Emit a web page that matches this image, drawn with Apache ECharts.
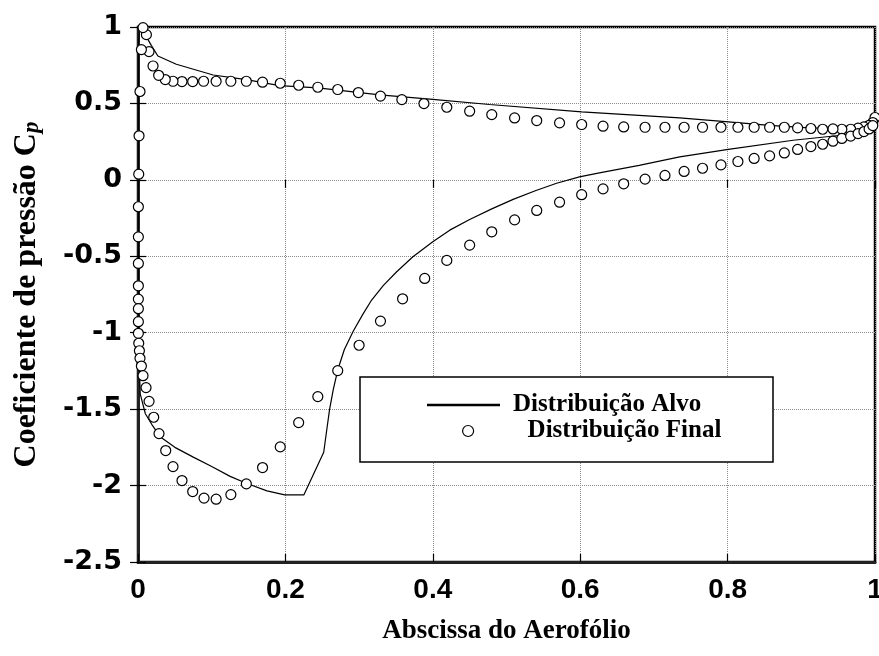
<!DOCTYPE html>
<html><head><meta charset="utf-8">
<script src="https://cdn.jsdelivr.net/npm/echarts@6/dist/echarts.min.js"></script>
<style>html,body{margin:0;padding:0;background:#fff}#c{width:879px;height:656px}</style>
</head><body><div id="c"></div>
<script>
// Distribuição Alvo (target) — upper surface TE→LE, then lower surface LE→TE
const targetX = [1.0, 0.952, 0.911, 0.857, 0.801, 0.735, 0.602, 0.477, 0.400, 0.328, 0.244, 0.192, 0.147, 0.102, 0.052, 0.027, 0.018, 0.006, 0.002,
  0.0008, 0.0005, 0.0005, 0.0005, 0.001, 0.002, 0.003, 0.010, 0.020, 0.030, 0.050, 0.075, 0.100, 0.125, 0.147, 0.175, 0.199, 0.225,
  0.252, 0.256, 0.260, 0.265, 0.271, 0.280, 0.292, 0.305, 0.317, 0.333, 0.351, 0.373, 0.400, 0.423, 0.450, 0.480, 0.509, 0.540, 0.568,
  0.599, 0.626, 0.680, 0.735, 0.801, 0.889, 0.954, 0.997, 1.0];
const targetY = [0.36, 0.336, 0.340, 0.357, 0.379, 0.405, 0.445, 0.493, 0.527, 0.556, 0.602, 0.617, 0.656, 0.686, 0.756, 0.81, 0.88, 0.983, 1.0,
  0.9, 0.5, 0.0, -0.5, -1.0, -1.25, -1.40, -1.53, -1.61, -1.68, -1.75, -1.814, -1.875, -1.94, -1.985, -2.035, -2.061, -2.061,
  -1.782, -1.64, -1.50, -1.37, -1.244, -1.11, -0.99, -0.88, -0.786, -0.69, -0.601, -0.503, -0.405, -0.329, -0.259, -0.19, -0.128, -0.07, -0.022,
  0.020, 0.046, 0.095, 0.150, 0.199, 0.259, 0.292, 0.314, 0.36];

// Distribuição Final — upper surface TE→LE, then lower surface LE→TE
const finalX = [1.0, 0.997, 0.992, 0.985, 0.977, 0.967, 0.955, 0.943, 0.929, 0.913, 0.895, 0.877, 0.857, 0.836, 0.814, 0.791, 0.766, 0.741, 0.715, 0.688,
  0.659, 0.631, 0.602, 0.572, 0.541, 0.511, 0.480, 0.450, 0.419, 0.388, 0.358, 0.329, 0.299, 0.271, 0.244, 0.218, 0.193, 0.169, 0.147, 0.126,
  0.106, 0.089, 0.0742, 0.0597, 0.0475, 0.037, 0.028, 0.0204, 0.015, 0.0114, 0.0068,
  0.0046, 0.0027, 0.0014, 0.001, 0.0005, 0.0005, 0.0005, 0.0005, 0.0005, 0.0005, 0.0005, 0.0005, 0.001, 0.0019, 0.0027, 0.0046, 0.0068, 0.0109,
  0.015, 0.0213, 0.0285, 0.0376, 0.0475, 0.0597, 0.0742, 0.0896, 0.106, 0.126, 0.147, 0.169, 0.193, 0.218, 0.244, 0.271, 0.300, 0.329, 0.359,
  0.389, 0.419, 0.450, 0.480, 0.511, 0.541, 0.572, 0.602, 0.631, 0.659, 0.688, 0.715, 0.741, 0.766, 0.791, 0.814, 0.836, 0.857, 0.877, 0.895,
  0.913, 0.929, 0.943, 0.955, 0.967, 0.977, 0.985, 0.992, 0.997];
const finalY = [0.408, 0.375, 0.357, 0.346, 0.338, 0.331, 0.331, 0.333, 0.331, 0.336, 0.340, 0.344, 0.344, 0.344, 0.344, 0.344, 0.344, 0.344, 0.344, 0.344,
  0.346, 0.351, 0.362, 0.373, 0.388, 0.405, 0.427, 0.449, 0.475, 0.499, 0.525, 0.548, 0.571, 0.591, 0.606, 0.619, 0.632, 0.639, 0.645, 0.645,
  0.645, 0.645, 0.643, 0.643, 0.645, 0.656, 0.684, 0.745, 0.839, 0.95, 0.996,
  0.852, 0.578, 0.288, 0.037, -0.176, -0.373, -0.547, -0.693, -0.780, -0.843, -0.928, -1.004, -1.069, -1.118, -1.167, -1.218, -1.281, -1.359,
  -1.449, -1.553, -1.660, -1.771, -1.876, -1.967, -2.039, -2.082, -2.089, -2.059, -1.989, -1.882, -1.747, -1.588, -1.418, -1.248, -1.082, -0.924, -0.778,
  -0.645, -0.527, -0.427, -0.340, -0.262, -0.200, -0.146, -0.097, -0.059, -0.026, 0.005, 0.029, 0.055, 0.076, 0.098, 0.120, 0.140, 0.157, 0.176, 0.199,
  0.218, 0.233, 0.253, 0.271, 0.286, 0.303, 0.316, 0.333, 0.355];

const xTicks = [0, 0.2, 0.4, 0.6, 0.8, 1];
const yTicks = [-2.5, -2, -1.5, -1, -0.5, 0, 0.5, 1];
const seriesNames = ['Distribuição Alvo', 'Distribuição Final'];
const xTitle = 'Abscissa do Aerofólio';
const yTitle = 'Coeficiente de pressão C';

const targetData = targetX.map((x, i) => [x, targetY[i]]);
const finalData = finalX.map((x, i) => [x, finalY[i]]);

const SANS_Y = "'DejaVu Sans', 'Liberation Sans', Arial, sans-serif";
const SANS_X = "'Liberation Sans', Arial, sans-serif";
const SERIF = "'Liberation Serif', 'Times New Roman', serif";
const splitLine = { show: true, lineStyle: { color: '#8a8a8a', type: 'dotted', width: 1 } };
const tickIn = { show: true, inside: true, length: 8, lineStyle: { color: '#000', width: 1.2 } };

const chart = echarts.init(document.getElementById('c'), null, { renderer: 'canvas' });
chart.setOption({
  animation: false,
  backgroundColor: '#fff',
  grid: { left: 138, right: 4, top: 27, bottom: 94, containLabel: false, outerBoundsMode: 'none',
    show: true, borderColor: '#000', borderWidth: 2.5, backgroundColor: 'transparent' },
  xAxis: [{
    type: 'value', min: 0, max: 1, interval: 0.2,
    axisLine: { show: true, onZero: false, lineStyle: { color: '#222', width: 3 } },
    axisTick: tickIn, splitLine: splitLine,
    axisLabel: { color: '#000', fontFamily: SANS_X, fontWeight: 'bold', fontSize: 28, margin: 14,
      formatter: v => { const t = xTicks.find(a => Math.abs(a - v) < 1e-9); return t === undefined ? '' : String(t); } },
    name: xTitle, nameLocation: 'middle', nameGap: 56,
    nameTextStyle: { color: '#000', fontFamily: SERIF, fontWeight: 'bold', fontSize: 27 }
  }, {
    type: 'value', position: 'top', min: 0, max: 1, interval: 0.2,
    axisLine: { show: false }, axisTick: tickIn, axisLabel: { show: false }, splitLine: { show: false }
  }],
  yAxis: [{
    type: 'value', min: -2.5, max: 1, interval: 0.5,
    axisLine: { show: true, onZero: false, lineStyle: { color: '#222', width: 3 } },
    axisTick: tickIn, splitLine: splitLine,
    axisLabel: { color: '#000', fontFamily: SANS_Y, fontWeight: 'bold', fontSize: 27, margin: 16,
      formatter: v => { const t = yTicks.find(a => Math.abs(a - v) < 1e-9); return t === undefined ? '' : String(t); } },
    name: '{a|' + yTitle + '}{b|p}', nameLocation: 'middle', nameGap: 94,
    nameTextStyle: {
      rich: {
        a: { color: '#000', fontFamily: SERIF, fontWeight: 'bold', fontSize: 32, lineHeight: 34, verticalAlign: 'middle' },
        b: { color: '#000', fontFamily: SERIF, fontWeight: 'bold', fontStyle: 'italic', fontSize: 23, lineHeight: 23, verticalAlign: 'bottom' }
      }
    }
  }, {
    type: 'value', position: 'right', min: -2.5, max: 1, interval: 0.5,
    axisLine: { show: false }, axisTick: tickIn, axisLabel: { show: false }, splitLine: { show: false }
  }],
  legend: [{
    data: [seriesNames[0]], left: 427, top: 392, padding: 0, icon: 'rect', itemWidth: 73, itemHeight: 2.5,
    itemStyle: { color: '#000' }, z: 100,
    textStyle: { color: '#000', fontFamily: SERIF, fontWeight: 'bold', fontSize: 25, lineHeight: 26, padding: [0, 0, 0, 8] }
  }, {
    data: [seriesNames[1]], left: 462, top: 418, padding: 0, icon: 'circle', itemWidth: 11, itemHeight: 11,
    itemStyle: { color: '#fff', borderColor: '#000', borderWidth: 1.2 }, z: 100,
    textStyle: { color: '#000', fontFamily: SERIF, fontWeight: 'bold', fontSize: 25, lineHeight: 26, padding: [0, 0, 0, 49] }
  }],
  graphic: [{
    type: 'rect', z: 50, shape: { x: 360, y: 377, width: 413, height: 85 },
    style: { fill: '#fff', stroke: '#000', lineWidth: 1.5 }
  }],
  series: [{
    name: seriesNames[0], type: 'line', data: targetData, showSymbol: false, symbol: 'none',
    lineStyle: { color: '#000', width: 1.2 }, itemStyle: { color: '#000' }, clip: false, z: 3
  }, {
    name: seriesNames[1], type: 'scatter', data: finalData, symbol: 'circle', symbolSize: 10,
    itemStyle: { color: '#fff', borderColor: '#000', borderWidth: 1.2, opacity: 1 }, clip: false, z: 4
  }]
});
</script></body></html>
